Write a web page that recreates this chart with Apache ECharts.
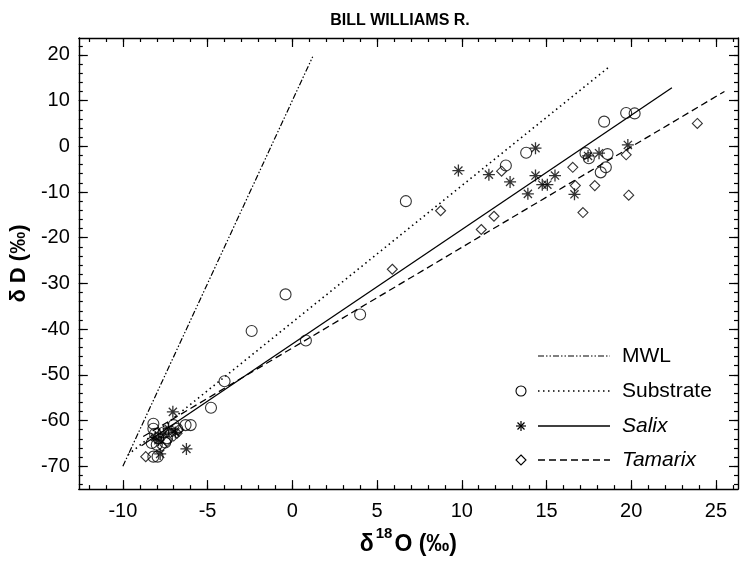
<!DOCTYPE html>
<html><head><meta charset="utf-8">
<script src="https://cdn.jsdelivr.net/npm/echarts@6/dist/echarts.min.js"></script>
<style>html,body{margin:0;padding:0;background:#fff}#c{width:741px;height:561px}</style>
</head><body><div id="c"></div>
<script>
// ---- data ----
const chartTitle = 'BILL WILLIAMS R.';
const xMajorTicks = [-10, -5, 0, 5, 10, 15, 20, 25];
const xMinorTicks = [-12,-11,-10,-9,-8,-7,-6,-5,-4,-3,-2,-1,0,1,2,3,4,5,6,7,8,9,10,11,12,13,14,15,16,17,18,19,20,21,22,23,24,25,26];
const yMajorTicks = [-70, -60, -50, -40, -30, -20, -10, 0, 10, 20];
const yMinorTicks = [-74,-72,-70,-68,-66,-64,-62,-60,-58,-56,-54,-52,-50,-48,-46,-44,-42,-40,-38,-36,-34,-32,-30,-28,-26,-24,-22,-20,-18,-16,-14,-12,-10,-8,-6,-4,-2,0,2,4,6,8,10,12,14,16,18,20,22];

const substratePts = [
  [6.7,-12.0],[12.6,-4.2],[13.8,-1.4],[17.3,-1.5],[17.5,-2.6],[18.2,-5.7],[18.5,-4.6],[18.6,-1.7],[18.4,5.4],[19.7,7.3],[20.2,7.2],
  [-0.4,-32.4],[-2.4,-40.4],[-4.0,-51.4],[-4.8,-57.2],[0.8,-42.5],[4.0,-36.8],
  [-8.2,-60.7],[-8.2,-61.8],[-8.1,-62.9],[-8.3,-64.9],[-8.0,-65.3],[-7.9,-63.9],[-7.4,-63.9],[-7.0,-61.0],[-6.8,-61.8],
  [-6.3,-61.0],[-6.0,-61.0],[-7.5,-64.8],[-8.2,-67.9],[-7.95,-67.9],[-7.6,-62.6],[-7.2,-62.4]
];
const salixPts = [
  [9.8,-5.3],[11.6,-6.2],[12.85,-7.8],[14.35,-0.4],[14.35,-6.4],[15.5,-6.4],[14.75,-8.4],[15.05,-8.4],[13.9,-10.4],
  [16.65,-10.5],[18.1,-1.5],[19.8,0.3],[17.45,-2.1],
  [-7.05,-58.1],[-6.25,-66.2],[-7.8,-67.3],[-7.6,-63.0],[-7.9,-64.3],[-7.3,-61.8],[-6.9,-62.6],[-8.1,-63.6]
];
const tamarixPts = [
  [5.9,-26.9],[8.75,-14.1],[11.15,-18.2],[11.9,-15.3],[12.35,-5.45],[16.55,-4.6],[16.7,-8.6],[17.85,-8.6],[17.15,-14.5],
  [19.7,-1.85],[19.85,-10.7],[23.9,5.0],
  [-8.65,-67.9],[-6.8,-62.8],[-7.4,-64.6],[-7.0,-63.4],[-6.7,-62.0],[-7.7,-65.6]
];
// regression / reference line end points
const mwlLine = [[-10,-70],[1.2,19.6]];
const substrateLine = [[-9.7,-67.5],[18.7,17.4]];
const salixLine = [[-8.9,-65.5],[22.4,12.8]];
const tamarixLine = [[-8.8,-63.5],[25.5,12.0]];
const legendNames = ['MWL', 'Substrate', 'Salix', 'Tamarix'];

// ---- chart ----
const FONT = 'Liberation Sans, Arial, Helvetica, sans-serif';
const starPath = 'path://M5 0L5 10M0 5L10 5M1.6 1.6L8.4 8.4M1.6 8.4L8.4 1.6';
const X_MIN = -12.6, X_MAX = 26.3, Y_MIN = -75, Y_MAX = 23.7;
const DASH_MWL = [6, 2, 1.5, 2, 1.5, 2], DASH_SUB = [1.5, 3.5], DASH_TAM = [7, 4];

function xAx(pos, ticks, len, main) {
  return {
    type: 'value', position: pos, min: X_MIN, max: X_MAX, gridIndex: 0,
    axisLine: { show: main, onZero: false, lineStyle: { color: '#000', width: 1.4 } },
    axisTick: { show: true, inside: true, length: len, customValues: ticks, lineStyle: { color: '#000', width: 1.2 } },
    axisLabel: { show: main && pos === 'bottom', customValues: xMajorTicks, color: '#000', fontSize: 20, fontFamily: FONT, margin: 12 },
    splitLine: { show: false }
  };
}
function yAx(pos, ticks, len, main) {
  return {
    type: 'value', position: pos, min: Y_MIN, max: Y_MAX, gridIndex: 0,
    axisLine: { show: main, onZero: false, lineStyle: { color: '#000', width: 1.4 } },
    axisTick: { show: true, inside: true, length: len, customValues: ticks, lineStyle: { color: '#000', width: 1.2 } },
    axisLabel: { show: main && pos === 'left', customValues: yMajorTicks, color: '#000', fontSize: 20, fontFamily: FONT, margin: 9 },
    splitLine: { show: false }
  };
}

const xAxes = [
  xAx('bottom', xMajorTicks, 9, true),
  xAx('bottom', xMinorTicks, 4, false),
  xAx('top', xMajorTicks, 9, true),
  xAx('top', xMinorTicks, 4, false)
];
xAxes[0].name = '{d|δ}{s|18}{d|O (‰)}';
xAxes[0].nameLocation = 'middle';
xAxes[0].nameGap = 36;
xAxes[0].nameTextStyle = {
  rich: {
    d: { fontSize: 23, fontWeight: 'bold', fontFamily: FONT, color: '#000', verticalAlign: 'bottom', lineHeight: 30 },
    s: { fontSize: 15, fontWeight: 'bold', fontFamily: FONT, color: '#000', verticalAlign: 'top', lineHeight: 16, padding: [0, 2, 0, 2] }
  }
};
const yAxes = [
  yAx('left', yMajorTicks, 9, true),
  yAx('left', yMinorTicks, 4, false),
  yAx('right', yMajorTicks, 9, true),
  yAx('right', yMinorTicks, 4, false)
];
yAxes[0].name = 'δ D (‰)';
yAxes[0].nameLocation = 'middle';
yAxes[0].nameGap = 48;
yAxes[0].nameTextStyle = { fontSize: 22, fontWeight: 'bold', fontFamily: FONT, color: '#000' };

function lineSeries(name, data, dash, w) {
  return {
    name: name, type: 'line', data: data, xAxisIndex: 0, yAxisIndex: 0,
    showSymbol: false, symbol: 'none', silent: true, animation: false,
    lineStyle: { color: '#000', width: w, type: dash }
  };
}
function scatterSeries(name, data, symbol, size, bw) {
  return {
    name: name, type: 'scatter', data: data, xAxisIndex: 0, yAxisIndex: 0,
    symbol: symbol, symbolSize: size, animation: false,
    itemStyle: { color: 'rgba(0,0,0,0)', borderColor: '#000', borderWidth: bw }
  };
}

// legend drawn as graphics
const LX_SYM = 521, LX_L0 = 538, LX_L1 = 610, LX_T = 622;
const LY = [356, 391, 426, 460];
const dashes = [DASH_MWL, DASH_SUB, null, DASH_TAM];
const widths = [1.2, 1.6, 1.3, 1.3];
const legendGraphics = [];
LY.forEach(function (y, i) {
  legendGraphics.push({
    type: 'line', shape: { x1: LX_L0, y1: y, x2: LX_L1, y2: y },
    style: { stroke: '#000', lineWidth: widths[i], lineDash: dashes[i] }
  });
  legendGraphics.push({
    type: 'text', x: LX_T, y: y,
    style: { text: legendNames[i], fill: '#000', font: (i >= 2 ? 'italic ' : '') + '21px ' + FONT, textVerticalAlign: 'middle' }
  });
});
legendGraphics.push({ type: 'circle', shape: { cx: LX_SYM, cy: LY[1], r: 5 }, style: { fill: 'none', stroke: '#000', lineWidth: 1.1 } });
[[0, -5, 0, 5], [-5, 0, 5, 0], [-3.5, -3.5, 3.5, 3.5], [-3.5, 3.5, 3.5, -3.5]].forEach(function (s) {
  legendGraphics.push({ type: 'line', shape: { x1: LX_SYM + s[0], y1: LY[2] + s[1], x2: LX_SYM + s[2], y2: LY[2] + s[3] },
    style: { stroke: '#000', lineWidth: 1.2 } });
});
legendGraphics.push({ type: 'polygon', shape: { points: [[LX_SYM, LY[3] - 5], [LX_SYM + 5, LY[3]], [LX_SYM, LY[3] + 5], [LX_SYM - 5, LY[3]]] },
  style: { fill: 'none', stroke: '#000', lineWidth: 1.1 } });

const chart = echarts.init(document.getElementById('c'), null, { renderer: 'canvas' });
chart.setOption({
  backgroundColor: '#fff',
  animation: false,
  title: {
    text: chartTitle, left: 395, top: 8, textAlign: 'center',
    textStyle: { fontSize: 16, fontWeight: 'bold', fontFamily: FONT, color: '#000' }
  },
  grid: { left: 73, right: 3, top: 38, bottom: 68, containLabel: false },
  xAxis: xAxes,
  yAxis: yAxes,
  series: [
    lineSeries('MWL', mwlLine, DASH_MWL, 1.2),
    lineSeries('Substrate line', substrateLine, DASH_SUB, 1.6),
    lineSeries('Salix line', salixLine, 'solid', 1.3),
    lineSeries('Tamarix line', tamarixLine, DASH_TAM, 1.3),
    scatterSeries('Substrate', substratePts, 'circle', 11, 1.1),
    scatterSeries('Salix', salixPts, starPath, 12, 1.3),
    scatterSeries('Tamarix', tamarixPts, 'diamond', [10, 10], 1.1)
  ],
  graphic: legendGraphics
});
</script></body></html>
